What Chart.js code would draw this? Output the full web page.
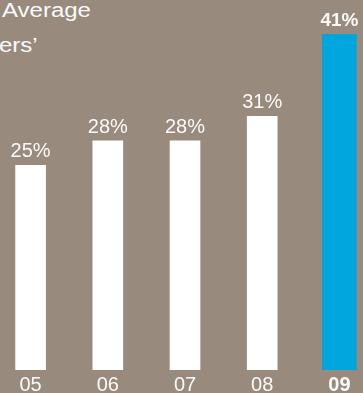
<!DOCTYPE HTML>
<html lang="en">
<head>
  <meta http-equiv="content-type" content="text/html; charset=UTF-8">
  <script src="https://cdn.jsdelivr.net/npm/chart.js"></script>
  <style>
    html, body { margin:0; padding:0; background:#988b7e; overflow:hidden; }
    body { width:363px; height:393px; position:relative; font-family:"Liberation Sans", Arial, sans-serif; }
    .title { position:absolute; color:#fbfaf8; font-family:"Liberation Sans", Arial, sans-serif; font-size:20px; line-height:20px; white-space:nowrap; transform:scaleX(1.2); transform-origin:0 0; }
    #wrap { position:absolute; left:-8px; top:0; width:386px; height:400px; }
  </style>
</head>
<body>
  <div class="title" style="left:2px; top:0px">Average</div>
  <div class="title" style="left:-1px; top:35px">ers’</div>
  <div id="wrap"><canvas id="chart"></canvas></div>

  <script>
    const years = ['05', '06', '07', '08', '09'];
    const pastValues = [25, 28, 28, 31, null];
    const currentValues = [null, null, null, null, 41];

    const textColor = '#fbfaf8';

    // value labels above the bars
    const valueLabels = {
        id: 'valueLabels',
        afterDatasetsDraw(chart) {
            const ctx = chart.ctx;
            ctx.save();
            ctx.fillStyle = textColor;
            ctx.textAlign = 'center';
            ctx.textBaseline = 'alphabetic';
            chart.data.datasets.forEach((ds, di) => {
                const meta = chart.getDatasetMeta(di);
                meta.data.forEach((bar, i) => {
                    const v = ds.data[i];
                    if (v === null) return;
                    ctx.font = di === 1 ? 'bold 19px "Liberation Sans", Arial' : '20px "Liberation Sans", Arial';
                    ctx.fillText(v + '%', bar.x, bar.y - 8);
                });
            });
            ctx.restore();
        }
    };

    new Chart(document.getElementById('chart'), {
        type: 'bar',
        data: {
            labels: years,
            datasets: [
                { data: pastValues, backgroundColor: '#ffffff', barThickness: 30, grouped: false },
                { data: currentValues, backgroundColor: '#00a6dc', barThickness: 34, grouped: false }
            ]
        },
        options: {
            responsive: true,
            maintainAspectRatio: false,
            animation: false,
            layout: { padding: 0 },
            plugins: { legend: { display: false }, tooltip: { enabled: false } },
            scales: {
                y: { display: false, min: 0, max: 45.2 },
                x: {
                    grid: { display: false, drawTicks: false, tickLength: 0 },
                    border: { display: false },
                    ticks: {
                        color: textColor,
                        padding: 3,
                        font: (c) => ({ family: '"Liberation Sans", Arial', size: 20, weight: c.index === 4 ? 'bold' : 'normal' })
                    }
                }
            }
        },
        plugins: [valueLabels]
    });
  </script>
</body>
</html>
